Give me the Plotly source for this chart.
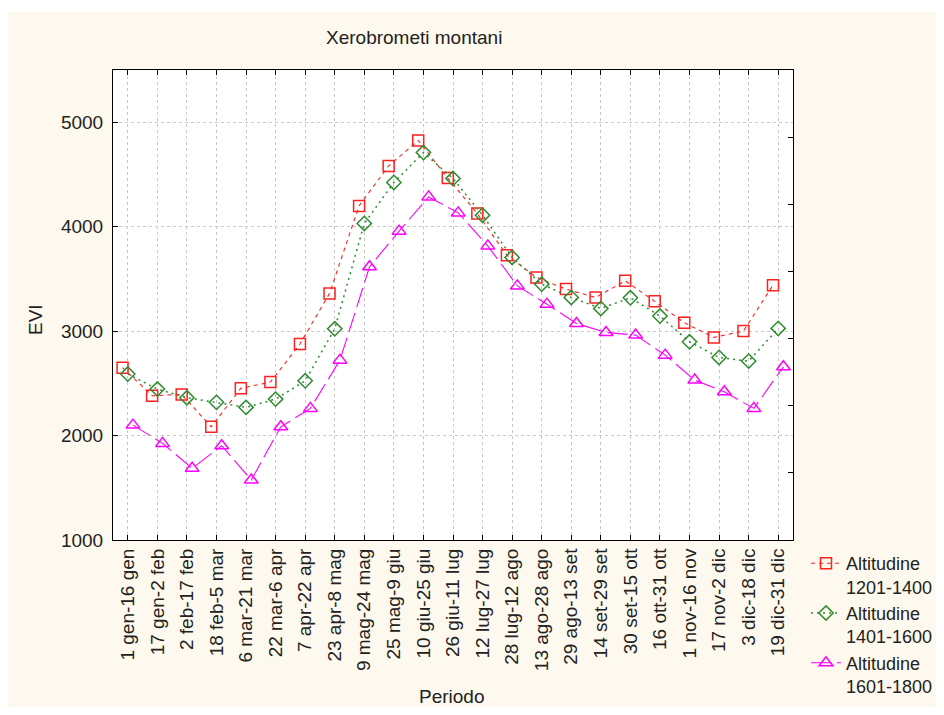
import plotly.graph_objects as go

periods = ["1 gen-16 gen", "17 gen-2 feb", "2 feb-17 feb", "18 feb-5 mar", "6 mar-21 mar",
           "22 mar-6 apr", "7 apr-22 apr", "23 apr-8 mag", "9 mag-24 mag", "25 mag-9 giu",
           "10 giu-25 giu", "26 giu-11 lug", "12 lug-27 lug", "28 lug-12 ago", "13 ago-28 ago",
           "29 ago-13 set", "14 set-29 set", "30 set-15 ott", "16 ott-31 ott", "1 nov-16 nov",
           "17 nov-2 dic", "3 dic-18 dic", "19 dic-31 dic"]

alt_1201_1400 = [2650, 2381, 2394, 2084, 2452, 2512, 2876, 3361, 4199, 4582, 4825, 4466,
                 4126, 3727, 3514, 3402, 3322, 3481, 3285, 3080, 2940, 3000, 3440]
alt_1401_1600 = [2589, 2445, 2362, 2318, 2270, 2349, 2524, 3022, 4031, 4423, 4710, 4461,
                 4110, 3705, 3450, 3322, 3217, 3319, 3144, 2898, 2748, 2713, 3026]
alt_1601_1800 = [2100, 1925, 1686, 1903, 1574, 2084, 2260, 2722, 3616, 3957, 4285, 4132,
                 3816, 3433, 3258, 3073, 2987, 2962, 2770, 2531, 2419, 2260, 2658]

series_names = ["Altitudine<br>1201-1400", "Altitudine<br>1401-1600", "Altitudine<br>1601-1800"]

FONT = "Liberation Sans, Arial, sans-serif"
FS = 19
TXT = "#222222"
CREAM = "#FEF9EE"

FIG_W, FIG_H = 928, 699
OFF = 8  # page body margin

# plot area in reference-picture pixels
L, R, T, B = 113, 793, 70, 540
W = R - L
H = B - T


def px(x):
    return (x - L) / W


def py(y):
    return (B - y) / H


fig = go.Figure()
fig.add_trace(go.Scatter(
    x=periods, y=alt_1201_1400, name=series_names[0], mode="lines+markers",
    line=dict(color="#FF2020", width=1.1, dash="4px,4px"),
    marker=dict(symbol="square-open", size=11, color="#FF2020", line=dict(width=1.5)),
))
fig.add_trace(go.Scatter(
    x=periods, y=alt_1401_1600, name=series_names[1], mode="lines+markers",
    line=dict(color="#2E8B2E", width=1.5, dash="2px,4px"),
    marker=dict(symbol="diamond-open", size=11, color="#2E8B2E", line=dict(width=1.5)),
))
fig.add_trace(go.Scatter(
    x=periods, y=alt_1601_1800, name=series_names[2], mode="lines+markers",
    line=dict(color="#FF00FF", width=1.1, dash="20px,6px"),
    marker=dict(symbol="triangle-up-open", size=12, color="#FF00FF", line=dict(width=1.5)),
))
# secondary axis only for the right-hand tick marks
fig.add_trace(go.Scatter(x=[periods[0]], y=[None], yaxis="y2", showlegend=False,
                         hoverinfo="skip", mode="markers"))

fig.update_layout(
    width=FIG_W, height=FIG_H,
    margin=dict(l=L - OFF, r=FIG_W - (R - OFF), t=T - OFF, b=FIG_H - (B - OFF), pad=0,
                autoexpand=False),
    paper_bgcolor=CREAM, plot_bgcolor="white",
    font=dict(family=FONT, size=FS, color=TXT),
    scattermode="group", scattergap=0.47,
    showlegend=True,
    legend=dict(x=px(806), y=py(545), xanchor="left", yanchor="top",
                bgcolor="rgba(0,0,0,0)", valign="top", tracegroupgap=0,
                font=dict(family=FONT, size=18, color=TXT)),
    xaxis=dict(
        type="category", range=[-0.5, 22.5], tickangle=-90,
        showline=True, linecolor="black", linewidth=1, mirror="ticks",
        ticks="inside", ticklen=5, tickcolor="black",
        showgrid=True, gridcolor="#C8C8C8", griddash="dot", gridwidth=1,
        tickfont=dict(family=FONT, size=FS, color=TXT),
        automargin=False,
    ),
    yaxis=dict(
        range=[1000, 5500], dtick=1000, tick0=0,
        showline=True, linecolor="black", linewidth=1, mirror=True,
        ticks="inside", ticklen=5, tickcolor="black",
        showgrid=True, gridcolor="#C8C8C8", griddash="dot", gridwidth=1,
        zeroline=False, ticklabelstandoff=5,
        tickfont=dict(family=FONT, size=FS, color=TXT),
        automargin=False,
    ),
    yaxis2=dict(
        overlaying="y", side="right", range=[0, 7], dtick=1, tick0=0,
        showticklabels=False, ticks="inside", ticklen=5, tickcolor="black",
        showgrid=False, zeroline=False, showline=False,
    ),
    shapes=[
        dict(type="rect", xref="paper", yref="paper", layer="below",
             x0=px(0), x1=px(960), y0=py(12), y1=py(0),
             fillcolor="white", line=dict(width=0)),
    ],
    annotations=[
        dict(text="Xerobrometi montani", xref="paper", yref="paper",
             x=px(414), y=py(38), xanchor="center", yanchor="middle",
             showarrow=False, font=dict(family=FONT, size=FS, color=TXT)),
        dict(text="EVI", xref="paper", yref="paper", textangle=-90,
             x=px(35), y=py(320), xanchor="center", yanchor="middle",
             showarrow=False, font=dict(family=FONT, size=FS, color=TXT)),
        dict(text="Periodo", xref="paper", yref="paper",
             x=px(452), y=py(697), xanchor="center", yanchor="middle",
             showarrow=False, font=dict(family=FONT, size=FS, color=TXT)),
    ],
)

fig.write_html("out.html")
